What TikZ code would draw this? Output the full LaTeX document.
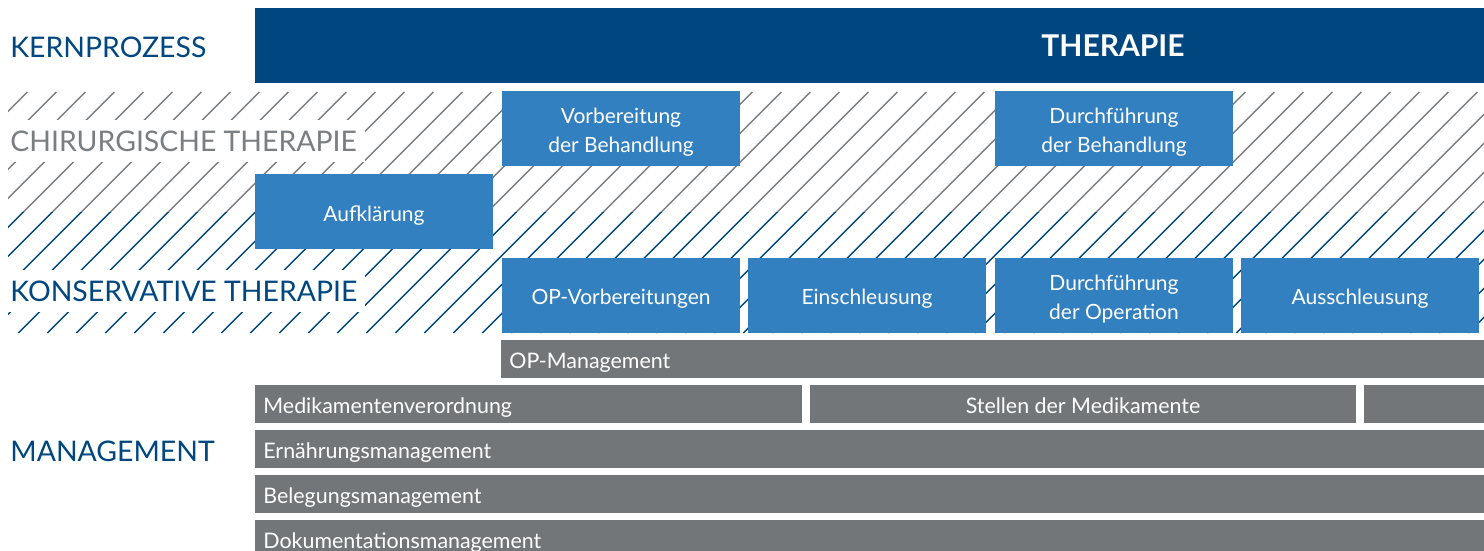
\documentclass[tikz,border=0pt]{standalone}
\usepackage{fontspec}
\setmainfont{Lato}

\definecolor{kernblue}{HTML}{00467F}
\definecolor{boxblue}{HTML}{3380C0}
\definecolor{bargray}{HTML}{727679}
\definecolor{labelgray}{HTML}{7A7E80}

\tikzset{
  lanelabel/.style={anchor=west, inner sep=0pt, font=\fontsize{14.2}{17}\selectfont},
  whitelabel/.style={lanelabel, fill=white, inner xsep=4pt, minimum height=21pt},
  boxtext/.style={text=white, align=center, inner sep=0pt, yshift=-1.8pt,
    font=\fontsize{10.5}{14.5}\selectfont},
  procbox/.style={fill=boxblue, minimum width=119pt, minimum height=37.5pt,
    inner sep=0pt, label={[boxtext]center:#1}},
  mgmtbar/.style={fill=bargray, text=white, minimum height=19pt, inner ysep=0pt,
    inner xsep=4pt, text height=9pt, text depth=0pt, font=\fontsize{10.7}{12}\selectfont},
  hatchline/.style={line width=0.7pt},
}

\begin{document}
\begin{tikzpicture}[x=0.5pt, y=-0.5pt]
  % picture in pixel units of the reference
  \useasboundingbox (0,0) rectangle (1484,551);

  % Kernprozess
  \node[lanelabel, text=kernblue] (kern) at (10,47) {KERNPROZESS};
  \node[fill=kernblue, anchor=west, minimum width=614.5pt, minimum height=37.5pt, inner sep=0pt]
    (kernbar) at (255,45.5) {};
  \node[text=white, font=\fontsize{15}{17}\bfseries] (therapie) at (1113,46) {THERAPIE};

  % Hatched lanes: grey upper half, blue lower half
  \begin{scope}
    \clip (8,92) rectangle (1484,212);
    \foreach \k [evaluate=\k as \c using 3.3+29*\k] in {4,...,62}
      \draw[hatchline, labelgray] ({\c-333},333) -- ({\c-92},92);
  \end{scope}
  \begin{scope}
    \clip (8,212) rectangle (1484,333);
    \foreach \k [evaluate=\k as \c using 3.3+29*\k] in {4,...,62}
      \draw[hatchline, kernblue] ({\c-333},333) -- ({\c-92},92);
  \end{scope}

  % Lane labels
  \node[whitelabel, text=labelgray] (chir) at (2,141) {CHIRURGISCHE THERAPIE};
  \node[whitelabel, text=kernblue] (konserv) at (2,291) {KONSERVATIVE THERAPIE};

  % Process steps
  \node[procbox={Vorbereitung\\der Behandlung}] (vorb) at (621,128.5) {};
  \node[procbox={Durchführung\\der Behandlung}] (durchb) at (1114,128.5) {};
  \node[procbox={Aufklärung}] (aufkl) at (374,211.5) {};
  \node[procbox={OP-Vorbereitungen}] (opvorb) at (621,295) {};
  \node[procbox={Einschleusung}] (einschl) at (867,295) {};
  \node[procbox={Durchführung\\der Operation}] (durchop) at (1114,295) {};
  \node[procbox={Ausschleusung}] (ausschl) at (1360,295) {};

  % Management
  \node[lanelabel, text=kernblue] (mgmt) at (10,451) {MANAGEMENT};
  \node[mgmtbar, anchor=west, minimum width=491.5pt, text width=483.5pt, align=left]
    (opman) at (501,359) {OP-Management};
  \node[mgmtbar, anchor=west, minimum width=273.5pt, text width=265.5pt, align=left]
    (medver) at (255,404) {Medikamentenverordnung};
  \node[mgmtbar, minimum width=273pt] (stellen) at (1083,404) {Stellen der Medikamente};
  \node[mgmtbar, anchor=west, minimum width=60pt, inner xsep=0pt] (medrest) at (1364,404) {};
  \node[mgmtbar, anchor=west, minimum width=614.5pt, text width=606.5pt, align=left]
    (ernaehr) at (255,449) {Ernährungsmanagement};
  \node[mgmtbar, anchor=west, minimum width=614.5pt, text width=606.5pt, align=left]
    (beleg) at (255,494) {Belegungsmanagement};
  \node[mgmtbar, anchor=west, minimum width=614.5pt, text width=606.5pt, align=left]
    (doku) at (255,539) {Dokumentationsmanagement};
\end{tikzpicture}
\end{document}
